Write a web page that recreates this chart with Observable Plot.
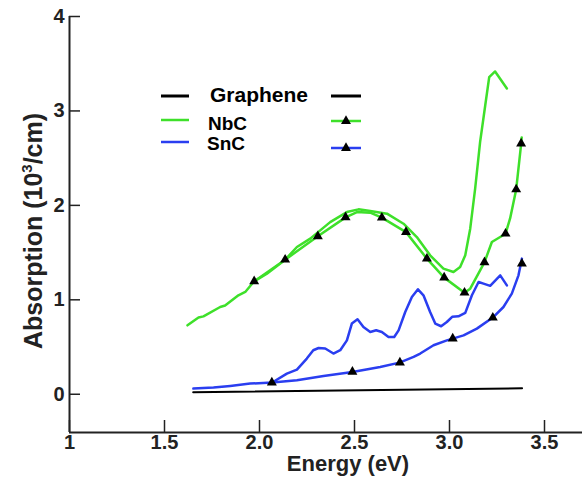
<!DOCTYPE html>
<html><head><meta charset="utf-8">
<script src="https://cdn.jsdelivr.net/npm/d3@7"></script>
<script src="https://cdn.jsdelivr.net/npm/@observablehq/plot@0.6"></script>
<style>body{margin:0;background:#fff}</style>
</head><body><div id="chart"></div>
<script>
const xTicks = [1, 1.5, 2, 2.5, 3, 3.5];
const xTickLabels = ["1", "1.5", "2.0", "2.5", "3.0", "3.5"];
const yTicks = [0, 1, 2, 3, 4];
const yTickLabels = ["0", "1", "2", "3", "4"];
const xTitle = "Energy (eV)";
const yTitleParts = ["Absorption (10", "3", "/cm)"];
const seriesNames = ["Graphene", "NbC", "SnC"];

const grapheneLine = [[1.651, 0.021], [3.382, 0.063]];

const nbcPlain = [
  [1.621, 0.730], [1.679, 0.812], [1.705, 0.825], [1.793, 0.924], [1.819, 0.939],
  [1.889, 1.048], [1.925, 1.083], [1.972, 1.196], [2.039, 1.277], [2.135, 1.425],
  [2.197, 1.559], [2.267, 1.648], [2.372, 1.823], [2.460, 1.929], [2.521, 1.958],
  [2.583, 1.940], [2.671, 1.912], [2.758, 1.806], [2.828, 1.665], [2.898, 1.471],
  [2.968, 1.330], [3.021, 1.294], [3.056, 1.347], [3.083, 1.471], [3.109, 1.753],
  [3.135, 2.177], [3.161, 2.670], [3.188, 3.058], [3.209, 3.358], [3.240, 3.418],
  [3.302, 3.238]
];
const nbcMarked = [
  [1.972, 1.196], [2.135, 1.425], [2.307, 1.672], [2.453, 1.873], [2.513, 1.929],
  [2.583, 1.923], [2.644, 1.870], [2.771, 1.717], [2.881, 1.436], [2.972, 1.235],
  [3.079, 1.076], [3.109, 1.118], [3.184, 1.397], [3.223, 1.612], [3.295, 1.700],
  [3.319, 1.862], [3.351, 2.169], [3.377, 2.649], [3.380, 2.720]
];
const nbcMarkers = [
  [1.972, 1.196], [2.135, 1.425], [2.307, 1.672], [2.453, 1.873], [2.644, 1.870],
  [2.771, 1.717], [2.881, 1.436], [2.972, 1.235], [3.079, 1.076], [3.184, 1.397],
  [3.295, 1.700], [3.351, 2.169], [3.377, 2.654]
];

const sncPlain = [
  [1.652, 0.060], [1.758, 0.071], [1.846, 0.088], [1.951, 0.113], [2.067, 0.124],
  [2.144, 0.219], [2.197, 0.261], [2.249, 0.378], [2.283, 0.466], [2.311, 0.490],
  [2.346, 0.484], [2.389, 0.431], [2.425, 0.466], [2.460, 0.571], [2.486, 0.748],
  [2.516, 0.794], [2.547, 0.712], [2.583, 0.659], [2.614, 0.677], [2.644, 0.659],
  [2.679, 0.606], [2.709, 0.606], [2.732, 0.677], [2.767, 0.871], [2.802, 1.030],
  [2.834, 1.111], [2.863, 1.048], [2.898, 0.871], [2.925, 0.748], [2.956, 0.720],
  [2.986, 0.765], [3.014, 0.820], [3.047, 0.825], [3.083, 0.862], [3.118, 1.048],
  [3.153, 1.188], [3.179, 1.171], [3.214, 1.148], [3.267, 1.259], [3.302, 1.153]
];
const sncMarked = [
  [2.067, 0.124], [2.197, 0.148], [2.337, 0.194], [2.489, 0.236], [2.635, 0.289],
  [2.737, 0.335], [2.811, 0.395], [2.846, 0.431], [2.916, 0.519], [2.986, 0.571],
  [3.017, 0.589], [3.074, 0.624], [3.144, 0.695], [3.228, 0.812], [3.284, 0.924],
  [3.328, 1.066], [3.363, 1.259], [3.381, 1.436]
];
const sncMarkers = [
  [2.065, 0.124], [2.489, 0.237], [2.739, 0.335], [3.017, 0.589], [3.228, 0.811], [3.381, 1.383]
];

const GREEN = "#3ee02a", BLUE = "#2a3ef0", AXIS = "#222";
const FONT = "'Liberation Sans', Arial, Helvetica, sans-serif";
const W = 582, H = 481, mL = 69, mR = 0, mT = 16, mB = 49;
const innerW = W - mL - mR, innerH = H - mT - mB;
const yMin = -0.405;
const px = d => d[0], py = d => d[1];
const triR = 3.7;

const plot = Plot.plot({
  width: W, height: H,
  marginLeft: mL, marginRight: mR, marginTop: mT, marginBottom: mB,
  x: {domain: [1, 3.7]},
  y: {domain: [yMin, 4]},
  style: {fontFamily: FONT, background: "white", overflow: "visible"},
  marks: [
    Plot.axisX(xTicks, {tickSize: 0, tickPadding: 2, tickFormat: d => xTickLabels[xTicks.indexOf(d)],
      fontSize: 20, fontWeight: "bold", fill: AXIS, label: null}),
    Plot.axisY(yTicks, {tickSize: 0, tickPadding: 5, tickFormat: d => yTickLabels[yTicks.indexOf(d)],
      fontSize: 20, fontWeight: "bold", fill: AXIS, label: null}),
    Plot.tickX(xTicks, {x: d => d, insetTop: innerH - 12, stroke: AXIS, strokeWidth: 1.5}),
    Plot.tickY(yTicks, {y: d => d, insetRight: innerW - 11, stroke: AXIS, strokeWidth: 1.5}),
    Plot.ruleX([1], {stroke: AXIS, strokeWidth: 2}),
    Plot.ruleY([yMin], {stroke: AXIS, strokeWidth: 2}),
    Plot.line(grapheneLine, {x: px, y: py, stroke: "black", strokeWidth: 2}),
    Plot.line(nbcPlain, {x: px, y: py, stroke: GREEN, strokeWidth: 2.5}),
    Plot.line(nbcMarked, {x: px, y: py, stroke: GREEN, strokeWidth: 2.5}),
    Plot.line(sncPlain, {x: px, y: py, stroke: BLUE, strokeWidth: 2.5}),
    Plot.line(sncMarked, {x: px, y: py, stroke: BLUE, strokeWidth: 2.5}),
    Plot.dot(nbcMarkers, {x: px, y: py, symbol: "triangle", r: triR, fill: "black", stroke: "none"}),
    Plot.dot(sncMarkers, {x: px, y: py, symbol: "triangle", r: triR, fill: "black", stroke: "none"})
  ]
});

const svg = d3.select(plot);

// Axis titles
svg.append("text").attr("x", 348).attr("y", 471).attr("text-anchor", "middle")
  .attr("font-family", FONT).attr("font-weight", "bold").attr("font-size", 22).attr("fill", AXIS)
  .text(xTitle);
const yt = svg.append("text").attr("transform", "translate(42,231) rotate(-90)").attr("text-anchor", "middle")
  .attr("font-family", FONT).attr("font-weight", "bold").attr("font-size", 25).attr("fill", AXIS);
yt.append("tspan").text(yTitleParts[0]);
yt.append("tspan").attr("font-size", 15).attr("dy", -10).text(yTitleParts[1]);
yt.append("tspan").attr("dy", 10).text(yTitleParts[2]);

// Legend
const leg = svg.append("g").attr("font-family", FONT).attr("font-weight", "bold").attr("fill", "black")
  .attr("text-anchor", "start");
const legendRows = [
  {name: seriesNames[0], color: "black", ly: 96, ty: 95, ry: 96, fs: 21, tx: 210, w: 3, marker: false},
  {name: seriesNames[1], color: GREEN, ly: 120, ty: 123, ry: 121, fs: 19, tx: 208, w: 2.5, marker: true},
  {name: seriesNames[2], color: BLUE, ly: 142, ty: 143, ry: 148, fs: 19, tx: 207, w: 2.5, marker: true}
];
const tri = d3.symbol().type(d3.symbolTriangle).size(triR * triR * Math.PI);
for (const r of legendRows) {
  leg.append("line").attr("x1", 161).attr("x2", 189).attr("y1", r.ly).attr("y2", r.ly)
    .attr("stroke", r.color).attr("stroke-width", r.w);
  leg.append("text").attr("x", r.tx).attr("y", r.ty).attr("dy", "0.35em")
    .attr("font-size", r.fs).text(r.name);
  leg.append("line").attr("x1", 331).attr("x2", 361).attr("y1", r.ry).attr("y2", r.ry)
    .attr("stroke", r.color).attr("stroke-width", r.w);
  if (r.marker) leg.append("path").attr("d", tri()).attr("transform", `translate(346,${r.ry})`).attr("fill", "black");
}

document.getElementById("chart").appendChild(plot);
</script>
</body></html>
